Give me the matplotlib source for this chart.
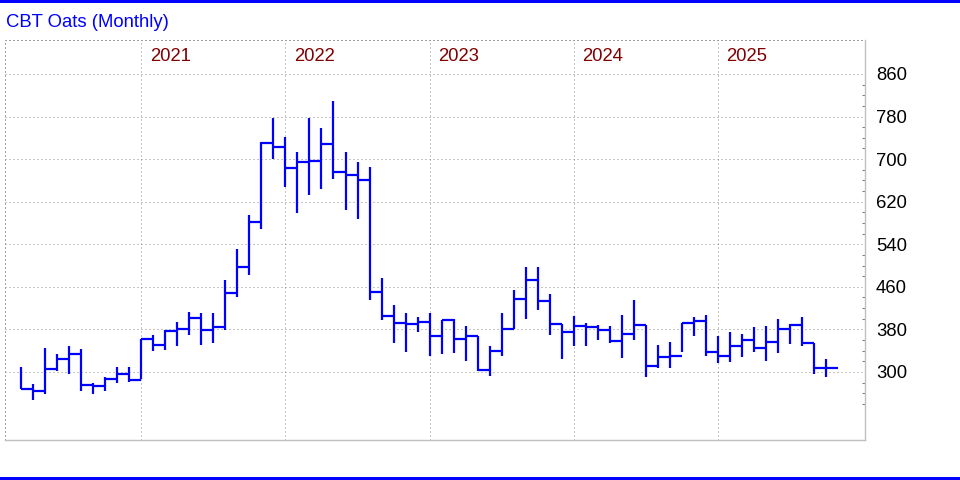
import matplotlib
matplotlib.use("Agg")
import matplotlib.pyplot as plt
import matplotlib.transforms as mtransforms
from matplotlib.patches import Rectangle
from matplotlib.ticker import FixedLocator

plt.rcParams['font.family'] = ['Liberation Sans', 'DejaVu Sans']

# ---- data (monthly HLC) ----
months = ['2020-03', '2020-04', '2020-05', '2020-06', '2020-07', '2020-08', '2020-09', '2020-10',
          '2020-11', '2020-12',
          '2021-01', '2021-02', '2021-03', '2021-04', '2021-05', '2021-06', '2021-07', '2021-08',
          '2021-09', '2021-10', '2021-11', '2021-12',
          '2022-01', '2022-02', '2022-03', '2022-04', '2022-05', '2022-06', '2022-07', '2022-08',
          '2022-09', '2022-10', '2022-11', '2022-12',
          '2023-01', '2023-02', '2023-03', '2023-04', '2023-05', '2023-06', '2023-07', '2023-08',
          '2023-09', '2023-10', '2023-11', '2023-12',
          '2024-01', '2024-02', '2024-03', '2024-04', '2024-05', '2024-06', '2024-07', '2024-08',
          '2024-09', '2024-10', '2024-11', '2024-12',
          '2025-01', '2025-02', '2025-03', '2025-04', '2025-05', '2025-06', '2025-07', '2025-08',
          '2025-09', '2025-10']
highs = [309, 277, 346, 334, 349, 344, 279, 290, 309, 309,
         362, 370, 379, 394, 413, 411, 411, 472, 532, 595, 733, 778,
         742, 714, 778, 759, 810, 714, 694, 686, 476, 426, 411, 403,
         411, 397, 399, 386, 367, 348, 411, 454, 497, 497, 446, 391,
         406, 393, 388, 386, 408, 435, 389, 350, 357, 393, 404, 407,
         368, 375, 372, 385, 387, 400, 390, 403, 355, 324]
lows = [268, 247, 258, 301, 297, 265, 258, 265, 279, 282,
        286, 339, 342, 349, 370, 350, 354, 379, 440, 483, 569, 700,
        647, 599, 633, 644, 663, 605, 588, 435, 398, 355, 338, 376,
        330, 334, 336, 321, 301, 292, 330, 380, 400, 417, 369, 325,
        349, 349, 361, 354, 327, 361, 290, 307, 308, 337, 368, 331,
        316, 319, 328, 337, 321, 336, 353, 348, 296, 291]
closes = [268, 265, 306, 324, 334, 276, 274, 286, 297, 285,
          362, 350, 377, 381, 401, 379, 385, 448, 497, 582, 731, 723,
          683, 694, 697, 729, 676, 670, 661, 450, 406, 393, 391, 394,
          368, 397, 362, 367, 304, 340, 380, 438, 472, 434, 391, 376,
          386, 384, 379, 359, 371, 389, 311, 328, 330, 393, 395, 338,
          331, 348, 361, 346, 357, 380, 389, 355, 308, 308]
year_labels = ['2021', '2022', '2023', '2024', '2025']
y_ticks = [300, 380, 460, 540, 620, 700, 780, 860]
title = 'CBT Oats (Monthly)'

# ---- layout ----
W, H = 960, 480
fig = plt.figure(figsize=(W / 100, H / 100), dpi=100)
left_px, right_px, top_px, bottom_px = 5, 865.3, 40, 440
ax = fig.add_axes([left_px / W, 1 - bottom_px / H, (right_px - left_px) / W, (bottom_px - top_px) / H])

month_px = 12.006
x0_px = 141.4  # Jan 2021 position
ax.set_xlim((left_px - x0_px) / month_px, (right_px - x0_px) / month_px)
ppu = (372 - 74) / 560.0
ax.set_ylim(300 - (bottom_px - 372) / ppu, 300 + (372 - top_px) / ppu)

xs = [(int(m[:4]) - 2021) * 12 + int(m[5:]) - 1 for m in months]
blue = '#0000ff'
ax.vlines(xs, lows, highs, color=blue, lw=1.6, zorder=3)
ax.hlines(closes, xs, [v + 1 for v in xs], color=blue, lw=1.6, zorder=3)

# grid
dot = (0, (1, 3))
grid_kw = dict(color='#8c8c8c', lw=0.72, linestyle=dot)
year_pos = [(int(y) - 2021) * 12 for y in year_labels]
ax.set_xticks(year_pos)
ax.set_yticks(y_ticks)
ax.grid(True, **grid_kw)
ax.set_axisbelow(True)

# spines
for s in ['top', 'left']:
    ax.spines[s].set_color('#a0a0a0')
    ax.spines[s].set_linestyle(dot)
    ax.spines[s].set_linewidth(0.72)
for s in ['right', 'bottom']:
    ax.spines[s].set_color('#c0c0c0')
    ax.spines[s].set_linewidth(1.0)

# ticks
ax.tick_params(axis='x', length=0, labelbottom=False)
ax.yaxis.tick_right()
ax.tick_params(axis='y', which='major', length=0, pad=7.7, labelsize=13.3, labelcolor='black')
ax.yaxis.set_minor_locator(FixedLocator([v for v in range(240, 860, 20)]))
ax.tick_params(axis='y', which='minor', direction='in', length=2.5, width=0.8, color='#808080')

# year labels
trans = mtransforms.blended_transform_factory(ax.transData, ax.transAxes)
for lab, p in zip(year_labels, year_pos):
    ax.text(p + 0.72, (bottom_px - 60.7) / (bottom_px - top_px), lab, transform=trans,
            color='#800000', fontsize=13.3, va='baseline', ha='left')

# title
fig.text(6 / W, 1 - 27.3 / H, title, color=blue, fontsize=13.3, va='baseline', ha='left')

# blue rules top and bottom
fig.add_artist(Rectangle((0, 1 - 3 / H), 1, 3 / H, transform=fig.transFigure, color=blue, lw=0))
fig.add_artist(Rectangle((0, 0), 1, 3 / H, transform=fig.transFigure, color=blue, lw=0))

fig.savefig('out.png', dpi=100)
